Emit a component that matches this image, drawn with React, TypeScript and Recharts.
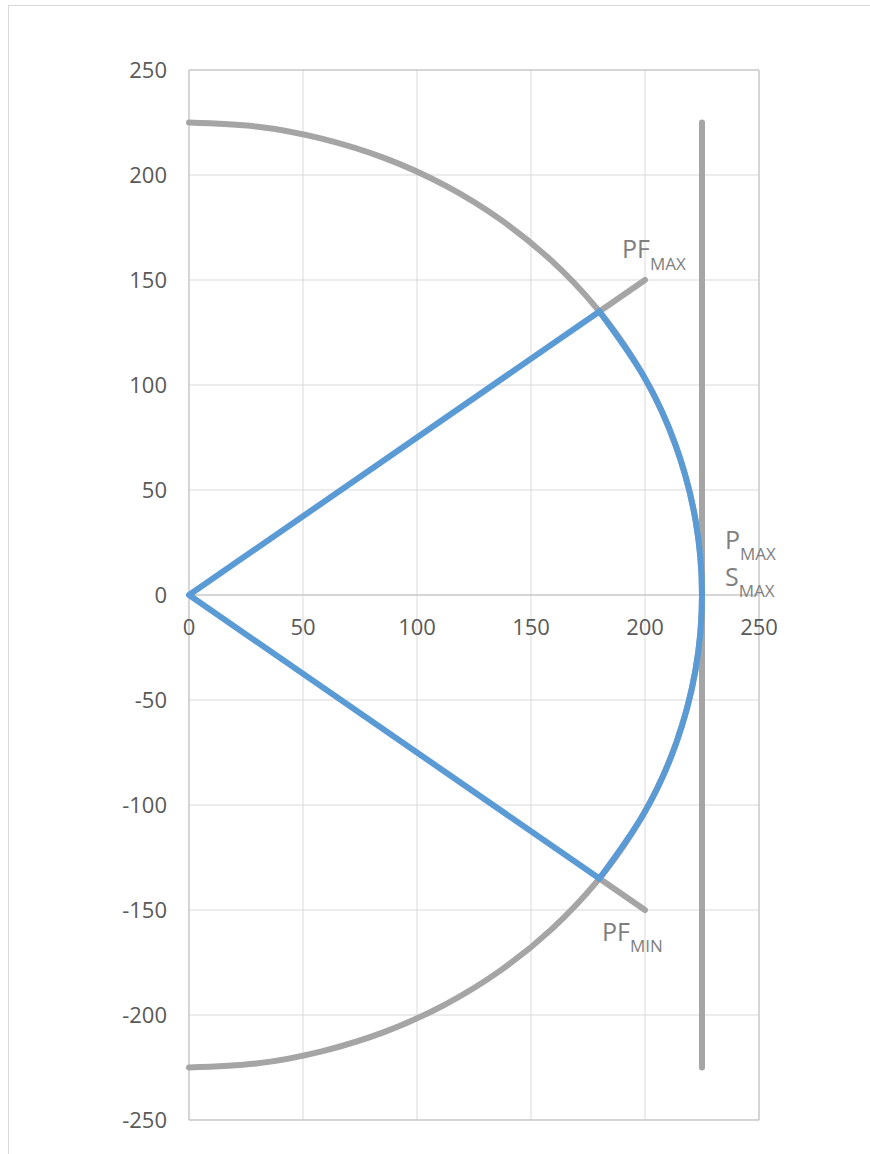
import { ScatterChart, Scatter, XAxis, YAxis, CartesianGrid, ReferenceLine } from 'recharts'

// gray circle of capability, radius 225
const circlePoints = [
  { x: 0, y: 225 }, { x: 29.4, y: 223.1 }, { x: 58.2, y: 217.3 }, { x: 86.1, y: 207.9 },
  { x: 112.5, y: 194.9 }, { x: 137.0, y: 178.5 }, { x: 159.1, y: 159.1 }, { x: 178.5, y: 137.0 },
  { x: 194.9, y: 112.5 }, { x: 207.9, y: 86.1 }, { x: 217.3, y: 58.2 }, { x: 223.1, y: 29.4 },
  { x: 225, y: 0 },
  { x: 223.1, y: -29.4 }, { x: 217.3, y: -58.2 }, { x: 207.9, y: -86.1 }, { x: 194.9, y: -112.5 },
  { x: 178.5, y: -137.0 }, { x: 159.1, y: -159.1 }, { x: 137.0, y: -178.5 }, { x: 112.5, y: -194.9 },
  { x: 86.1, y: -207.9 }, { x: 58.2, y: -217.3 }, { x: 29.4, y: -223.1 }, { x: 0, y: -225 },
]

// blue arc between the PF limits
const arcPoints = [
  { x: 180, y: 135 }, { x: 199.3, y: 104.4 }, { x: 213.5, y: 71.2 }, { x: 222.1, y: 36.0 },
  { x: 225, y: 0 }, { x: 222.1, y: -36.0 }, { x: 213.5, y: -71.2 }, { x: 199.3, y: -104.4 },
  { x: 180, y: -135 },
]

const wedgePoints = [{ x: 180, y: 135 }, { x: 0, y: 0 }, { x: 180, y: -135 }]
const pfMaxLine = [{ x: 180, y: 135 }, { x: 200, y: 150 }]
const pfMinLine = [{ x: 180, y: -135 }, { x: 200, y: -150 }]
const pMaxLine = [{ x: 225, y: 225 }, { x: 225, y: -225 }]

const xTicks = [0, 50, 100, 150, 200, 250]
const yTicks = [-250, -200, -150, -100, -50, 0, 50, 100, 150, 200, 250]

const labelPoints = [
  { x: 200, y: 150, id: 'pfmax', main: 'PF', sub: 'MAX' },
  { x: 200, y: -150, id: 'pfmin', main: 'PF', sub: 'MIN' },
  { x: 225, y: 0, id: 'pmax', main: 'P', sub: 'MAX' },
  { x: 225, y: 0, id: 'smax', main: 'S', sub: 'MAX' },
]

// pixel offsets of each label from its anchor point
const LABEL_OFFSETS: Record<string, { dx: number; dy: number; sub: number }> = {
  pfmax: { dx: -23, dy: -22, sub: 12 },
  pfmin: { dx: -43, dy: 31, sub: 11 },
  pmax: { dx: 23, dy: -46, sub: 11 },
  smax: { dx: 23, dy: -9, sub: 11 },
}

const FONT = '"Open Sans", sans-serif'
const GRAY = '#a5a5a5'
const BLUE = '#5b9bd5'
const FRAME = '#bfbfbf'
const PLOT_H = 1050
const LINE_W = 6

const noDot = () => <g />

const XTick = (props: any) => {
  const { x, y, payload } = props
  return (
    <text x={x} y={y - PLOT_H / 2 + 40} textAnchor='middle' fill='#595959' fontSize={22} fontFamily={FONT}>
      {payload.value}
    </text>
  )
}

const LabelShape = (props: any) => {
  const { cx, cy, payload } = props
  const o = LABEL_OFFSETS[payload.id]
  return (
    <text x={cx + o.dx} y={cy + o.dy} fill='#7f7f7f' fontFamily={FONT} fontSize={25} strokeWidth={0}>
      <tspan>{payload.main}</tspan>
      <tspan dy={o.sub} fontSize={17}>{payload.sub}</tspan>
    </text>
  )
}

const grayLine = { stroke: GRAY, strokeWidth: LINE_W, strokeLinecap: 'round' as const, strokeLinejoin: 'round' as const }
const blueLine = { stroke: BLUE, strokeWidth: LINE_W, strokeLinecap: 'round' as const, strokeLinejoin: 'round' as const }

export default function App() {
  return (
    <div
      style={{
        position: 'absolute',
        left: 8,
        top: 5,
        width: 861,
        height: 1148,
        borderLeft: '1px solid #d9d9d9',
        borderTop: '1px solid #d9d9d9',
        background: '#fff',
      }}
    >
      <ScatterChart width={861} height={1148} margin={{ top: 64, right: 111, bottom: 4, left: 0 }}>
        <CartesianGrid stroke='#d9d9d9' />
        <XAxis
          type='number'
          dataKey='x'
          domain={[0, 250]}
          ticks={xTicks}
          height={30}
          tickSize={0}
          tickMargin={0}
          axisLine={{ stroke: FRAME }}
          tickLine={false}
          tick={<XTick />}
        />
        <YAxis
          type='number'
          dataKey='y'
          domain={[-250, 250]}
          ticks={yTicks}
          width={180}
          tickSize={0}
          tickMargin={22}
          axisLine={{ stroke: FRAME }}
          tickLine={false}
          tick={{ fill: '#595959', fontSize: 22, fontFamily: FONT }}
        />
        <ReferenceLine y={0} stroke={FRAME} />
        <ReferenceLine y={250} stroke={FRAME} />
        <ReferenceLine x={250} stroke={FRAME} />
        <Scatter data={circlePoints} stroke={GRAY} strokeWidth={LINE_W} line={grayLine} lineJointType='natural' shape={noDot} isAnimationActive={false} />
        <Scatter data={pfMaxLine} stroke={GRAY} strokeWidth={LINE_W} line={grayLine} shape={noDot} isAnimationActive={false} />
        <Scatter data={pfMinLine} stroke={GRAY} strokeWidth={LINE_W} line={grayLine} shape={noDot} isAnimationActive={false} />
        <Scatter data={pMaxLine} stroke={GRAY} strokeWidth={LINE_W} line={grayLine} shape={noDot} isAnimationActive={false} />
        <Scatter data={wedgePoints} stroke={BLUE} strokeWidth={LINE_W} line={blueLine} shape={noDot} isAnimationActive={false} />
        <Scatter data={arcPoints} stroke={BLUE} strokeWidth={LINE_W} line={blueLine} lineJointType='natural' shape={noDot} isAnimationActive={false} />
        <Scatter data={labelPoints} shape={<LabelShape />} isAnimationActive={false} />
      </ScatterChart>
    </div>
  )
}
